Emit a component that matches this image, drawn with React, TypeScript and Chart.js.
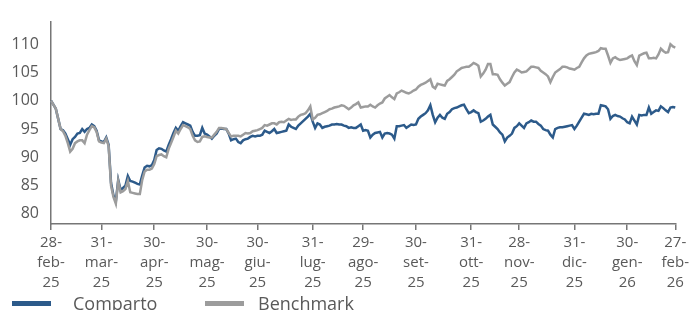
import React, { useEffect, useRef } from 'react';
import { Chart, registerables } from 'chart.js';

Chart.register(...registerables);

const MONTHS = ['gen', 'feb', 'mar', 'apr', 'mag', 'giu', 'lug', 'ago', 'set', 'ott', 'nov', 'dic'];

// Business days from 28-feb-25 to 27-feb-26 (categories)
function buildCategories(): string[] {
  const out: string[] = [];
  const d = new Date(Date.UTC(2025, 1, 28));
  const end = new Date(Date.UTC(2026, 1, 27));
  while (d.getTime() <= end.getTime()) {
    const wd = d.getUTCDay();
    if (wd !== 0 && wd !== 6) {
      const dd = String(d.getUTCDate()).padStart(2, '0');
      const yy = String(d.getUTCFullYear() % 100).padStart(2, '0');
      out.push(`${dd}-${MONTHS[d.getUTCMonth()]}-${yy}`);
    }
    d.setUTCDate(d.getUTCDate() + 1);
  }
  return out;
}
const CATEGORIES = buildCategories();

const TICK_LABELS = [
  '28-feb-25', '31-mar-25', '30-apr-25', '30-mag-25', '30-giu-25', '31-lug-25', '29-ago-25',
  '30-set-25', '31-ott-25', '28-nov-25', '31-dic-25', '30-gen-26', '27-feb-26',
];

const Y_TICKS = [80, 85, 90, 95, 100, 105, 110];

const COMPARTO = [
  100.0, 99.3, 98.6, 96.8, 95.0, 94.8, 94.2, 93.2, 92.2, 93.2,
  93.6, 94.2, 94.3, 95.0, 94.5, 95.0, 95.2, 95.8, 95.5, 94.7,
  93.0, 92.8, 92.7, 93.5, 92.2, 85.5, 83.3, 82.2, 86.0, 84.2,
  84.6, 85.0, 86.7, 85.8, 85.7, 85.5, 85.3, 85.2, 86.8, 88.2,
  88.5, 88.4, 88.6, 89.5, 91.3, 91.6, 91.5, 91.2, 91.0, 92.2,
  93.2, 94.3, 95.2, 94.7, 95.5, 96.2, 96.0, 95.8, 95.6, 94.5,
  93.8, 93.8, 93.9, 95.2, 94.2, 94.0, 93.7, 93.3, 93.8, 94.2,
  95.0, 95.1, 95.0, 95.0, 94.2, 93.0, 93.2, 93.3, 92.7, 92.5,
  93.0, 93.2, 93.3, 93.6, 93.8, 93.7, 93.8, 93.8, 94.0, 94.7,
  94.5, 94.3, 94.6, 95.0, 94.3, 94.4, 94.5, 94.6, 94.7, 95.8,
  95.4, 95.2, 95.0, 95.6, 96.0, 96.4, 96.8, 97.2, 97.7, 96.3,
  95.2, 96.0, 95.8, 95.2, 95.4, 95.5, 95.6, 95.8, 95.8, 95.9,
  95.8, 95.8, 95.6, 95.5, 95.2, 95.3, 95.2, 95.2, 95.5, 95.8,
  94.7, 94.8, 94.7, 93.5, 94.0, 94.3, 94.4, 94.5, 93.5, 94.2,
  94.3, 94.2, 94.0, 93.3, 95.5, 95.5, 95.6, 95.7, 95.2, 95.5,
  95.8, 95.7, 95.8, 96.8, 97.2, 97.5, 97.8, 98.3, 99.2, 97.5,
  96.2, 97.0, 97.5, 97.0, 96.8, 97.7, 98.0, 98.5, 98.7, 98.8,
  99.0, 99.2, 99.3, 98.5, 97.8, 98.0, 98.3, 98.0, 97.8, 96.3,
  96.5, 96.8, 97.2, 97.5, 95.8, 95.4, 95.0, 94.4, 94.0, 92.8,
  93.5, 93.8, 94.2, 95.2, 95.5, 96.0, 95.6, 95.2, 96.0, 96.2,
  96.5, 96.3, 96.3, 95.9, 95.6, 95.0, 94.8, 94.7, 94.0, 93.5,
  95.0, 95.2, 95.3, 95.3, 95.4, 95.5, 95.6, 95.7, 95.0, 95.6,
  96.3, 97.0, 97.7, 97.6, 97.5, 97.7, 97.6, 97.7, 97.7, 99.2,
  99.1, 99.0, 98.5, 96.8, 97.3, 97.5, 97.3, 97.2, 96.9, 96.7,
  96.2, 96.0, 97.2, 96.5, 95.8, 97.5, 97.4, 97.5, 97.5, 98.8,
  97.7, 98.0, 98.3, 98.2, 99.0, 98.7, 98.3, 98.0, 98.8, 98.9,
  98.8,
];

const BENCHMARK = [
  100.0, 99.3, 98.6, 96.8, 95.0, 94.6, 93.8, 92.5, 91.0, 91.5,
  92.5, 92.8, 93.0, 93.0, 92.5, 94.0, 94.8, 95.5, 95.3, 94.5,
  92.8, 92.6, 92.5, 93.3, 92.0, 85.0, 83.0, 81.8, 85.8, 83.8,
  84.0, 84.4, 85.8, 83.8, 83.7, 83.6, 83.5, 83.5, 86.0, 87.5,
  87.8, 87.8, 88.0, 88.8, 90.2, 90.4, 90.5, 90.2, 90.0, 91.5,
  92.5, 93.6, 94.7, 94.2, 95.0, 95.7, 95.5, 95.3, 95.0, 93.8,
  93.0, 92.7, 92.8, 93.6, 93.7, 93.6, 93.5, 93.5, 94.0, 94.5,
  95.2, 95.2, 95.1, 95.0, 94.3, 93.7, 93.8, 93.8, 93.8, 93.7,
  94.0, 94.3, 94.2, 94.3, 94.6, 94.7, 94.8, 95.0, 95.2, 95.7,
  95.6, 95.8, 96.0, 96.0, 95.8, 96.2, 96.3, 96.2, 96.5, 96.8,
  96.6, 96.7, 96.7, 97.2, 97.5, 97.6, 97.8, 98.3, 99.0, 96.7,
  97.0, 97.5, 97.6, 97.8, 98.0, 98.2, 98.5, 98.6, 98.8, 98.9,
  99.0, 99.2, 99.1, 98.8, 98.5, 98.8, 99.2, 99.4, 99.7, 98.8,
  98.9, 99.0, 99.0, 99.3, 99.0, 98.8, 99.2, 99.5, 99.7, 100.4,
  100.7, 101.0, 100.6, 100.3, 101.3, 101.5, 101.8, 101.6, 101.4, 101.3,
  101.5, 101.8, 102.0, 102.5, 102.8, 103.0, 103.2, 103.5, 103.8, 102.5,
  102.2, 103.0, 102.9, 102.8, 102.7, 103.5, 103.8, 104.2, 104.6, 105.2,
  105.5, 105.8, 105.9, 106.0, 106.0, 106.3, 106.7, 106.5, 106.2, 104.3,
  104.8, 105.5, 106.5, 106.5, 104.7, 104.7, 104.6, 103.8, 103.2, 102.7,
  103.0, 103.3, 104.2, 105.0, 105.5, 105.3, 105.0, 105.1, 105.2, 105.6,
  106.0, 106.0, 105.9, 105.8, 105.3, 105.0, 104.7, 104.3, 103.3, 104.2,
  105.0, 105.3, 105.6, 106.0, 106.0, 105.9, 105.7, 105.6, 105.5, 105.8,
  106.0, 106.8, 107.5, 108.0, 108.3, 108.4, 108.5, 108.6, 108.8, 109.3,
  109.2, 109.2, 108.0, 106.7, 107.5, 107.7, 107.4, 107.2, 107.3, 107.4,
  107.5, 107.8, 108.0, 107.0, 106.3, 108.0, 108.2, 108.4, 108.5, 107.5,
  107.5, 107.6, 107.5, 108.2, 109.2, 108.8, 108.5, 108.6, 110.0, 109.6,
  109.4,
];

const SERIES_NAMES = ['Comparto', 'Benchmark'];
const BLUE = '#2C5A8A';
const GRAY = '#9C9C9C';
const AXIS = '#767676';
const TEXT = '#595959';
const FONT = '"Open Sans", sans-serif';

const legendPlugin = {
  id: 'customLegend',
  afterDraw(chart: any) {
    const ctx = chart.ctx;
    ctx.save();
    const items = [
      { name: SERIES_NAMES[0], color: BLUE, x: 12, tx: 73 },
      { name: SERIES_NAMES[1], color: GRAY, x: 205, tx: 258 },
    ];
    ctx.font = `18px ${FONT}`;
    ctx.textBaseline = 'alphabetic';
    ctx.textAlign = 'left';
    for (const it of items) {
      ctx.fillStyle = it.color;
      ctx.fillRect(it.x, 301, 39, 5);
      ctx.fillStyle = TEXT;
      ctx.fillText(it.name, it.tx, 310);
    }
    ctx.restore();
  },
};

export default function App() {
  const ref = useRef<HTMLCanvasElement | null>(null);

  useEffect(() => {
    document.body.style.margin = '0';
    const canvas = ref.current;
    if (!canvas) return;
    const tickIdx = TICK_LABELS.map((l) => CATEGORIES.indexOf(l));
    const chart = new Chart(canvas, {
      type: 'line',
      data: {
        labels: CATEGORIES,
        datasets: [
          {
            label: SERIES_NAMES[0],
            data: COMPARTO,
            borderColor: BLUE,
            backgroundColor: BLUE,
            borderWidth: 2.5,
            pointRadius: 0,
            tension: 0,
            order: 1,
          },
          {
            label: SERIES_NAMES[1],
            data: BENCHMARK,
            borderColor: GRAY,
            backgroundColor: GRAY,
            borderWidth: 2.5,
            pointRadius: 0,
            tension: 0,
            order: 0,
          },
        ],
      },
      options: {
        responsive: false,
        animation: false,
        events: [],
        layout: { padding: { top: 9, right: 13, left: 0, bottom: 0 } },
        plugins: { legend: { display: false }, tooltip: { enabled: false } },
        scales: {
          x: {
            type: 'category',
            offset: false,
            grid: {
              display: true,
              drawOnChartArea: false,
              drawTicks: true,
              tickLength: 6,
              color: AXIS,
              lineWidth: 1.5,
            },
            border: { display: true, color: AXIS, width: 1.5 },
            afterBuildTicks: (scale: any) => {
              scale.ticks = tickIdx.map((v) => ({ value: v }));
            },
            afterFit: (scale: any) => {
              scale.height = 86;
            },
            ticks: {
              autoSkip: false,
              maxRotation: 0,
              minRotation: 0,
              padding: 3,
              color: TEXT,
              font: { family: FONT, size: 15, lineHeight: 1.33 },
              callback: (value: any) => {
                const s = CATEGORIES[value as number];
                const p = s.split('-');
                return [p[0] + '-', p[1] + '-', p[2]];
              },
            },
          },
          y: {
            min: 78.2,
            max: 114,
            grid: { display: false, drawTicks: false },
            border: { display: true, color: AXIS, width: 1.5 },
            afterBuildTicks: (scale: any) => {
              scale.ticks = Y_TICKS.map((v) => ({ value: v }));
            },
            afterFit: (scale: any) => {
              scale.width = 51;
            },
            ticks: {
              padding: 12,
              color: TEXT,
              font: { family: FONT, size: 16 },
            },
          },
        },
      },
      plugins: [legendPlugin],
    });
    return () => chart.destroy();
  }, []);

  return (
    <div style={{ position: 'absolute', left: 0, top: 0, width: 692, height: 310 }}>
      <canvas ref={ref} width={692} height={310} style={{ display: 'block' }} />
    </div>
  );
}
